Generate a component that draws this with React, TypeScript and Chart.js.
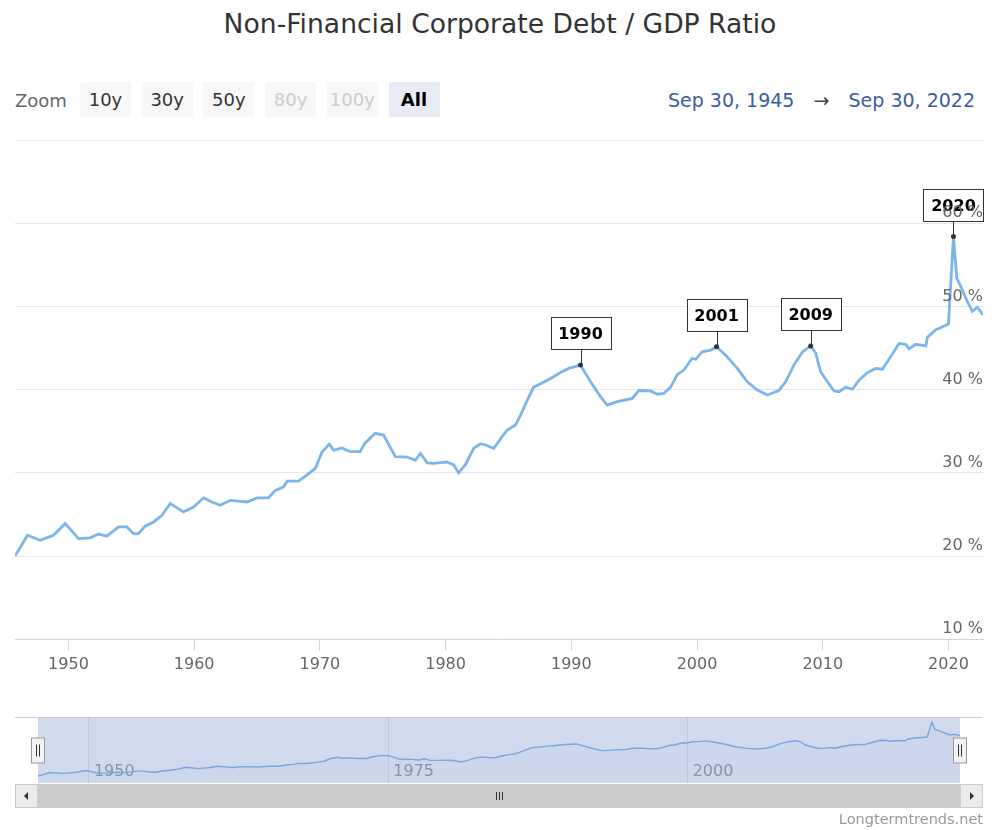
import React, { useEffect, useRef } from "react";
import { Chart, registerables } from "chart.js";

Chart.register(...registerables);

const FONT = '"DejaVu Sans", Verdana, sans-serif';

const TITLE = "Non-Financial Corporate Debt / GDP Ratio";
const zoomLabel = "Zoom";
const zoomButtons = ["10y", "30y", "50y", "80y", "100y", "All"];
const zoomDisabled = ["80y", "100y"];
const zoomSelected = "All";
const rangeFrom = "Sep 30, 1945";
const rangeTo = "Sep 30, 2022";
const credits = "Longtermtrends.net";

// decimal years (quarter ends) and ratio in %
const years = [
  1945.75, 1946.74, 1947.75, 1948.8, 1949.74, 1950.8, 1951.73, 1952.4, 1953.06, 1953.98,
  1954.65, 1955.17, 1955.57, 1956.1, 1956.77, 1957.43, 1958.1, 1959.15, 1959.95, 1960.75,
  1961.4, 1962.07, 1962.87, 1963.53, 1964.2, 1965.0, 1965.9, 1966.45, 1967.1, 1967.4,
  1968.3, 1968.98, 1969.64, 1970.17, 1970.75, 1971.1, 1971.75, 1972.4, 1973.2, 1973.6,
  1974.4, 1975.07, 1976.0, 1976.94, 1977.6, 1978.0, 1978.53, 1979.05, 1980.1, 1980.65,
  1981.04, 1981.6, 1982.24, 1982.77, 1983.17, 1983.83, 1984.5, 1984.9, 1985.56, 1985.96,
  1986.5, 1987.0, 1987.55, 1988.35, 1989.14, 1989.8, 1990.73, 1991.53, 1992.32, 1992.86,
  1993.65, 1994.85, 1995.37, 1996.3, 1996.84, 1997.36, 1997.9, 1998.43, 1998.95, 1999.6,
  1999.9, 2000.4, 2001.08, 2001.55, 2002.4, 2003.2, 2004.0, 2004.8, 2005.6, 2006.5,
  2007.05, 2007.7, 2008.4, 2009.04, 2009.44, 2009.83, 2010.37, 2010.9, 2011.3, 2011.83,
  2012.36, 2012.89, 2013.55, 2014.2, 2014.75, 2015.4, 2016.07, 2016.6, 2016.86, 2017.4,
  2018.2, 2018.33, 2019.0, 2019.8, 2020.0, 2020.4, 2020.66, 2020.98, 2021.5, 2021.9,
  2022.3, 2022.747,
];
const ratio = [
  20.0, 22.5, 21.9, 22.5, 23.9, 22.1, 22.2, 22.65, 22.4, 23.5,
  23.5, 22.7, 22.7, 23.6, 24.1, 24.9, 26.3, 25.3, 25.9, 27.0,
  26.5, 26.1, 26.7, 26.6, 26.5, 27.0, 27.0, 27.9, 28.3, 29.0,
  29.0, 29.75, 30.55, 32.5, 33.45, 32.7, 33.0, 32.55, 32.55, 33.6,
  34.75, 34.55, 31.95, 31.9, 31.5, 32.35, 31.2, 31.15, 31.3, 30.95,
  30.0, 31.05, 32.95, 33.5, 33.35, 32.95, 34.35, 35.15, 35.75, 36.95,
  38.75, 40.3, 40.7, 41.35, 42.05, 42.55, 42.95, 40.95, 39.15, 38.15,
  38.55, 38.95, 39.9, 39.85, 39.45, 39.55, 40.3, 41.8, 42.35, 43.75,
  43.65, 44.55, 44.75, 45.15, 43.95, 42.55, 40.95, 39.95, 39.35, 39.9,
  40.95, 42.95, 44.55, 45.25, 44.4, 42.15, 40.95, 39.85, 39.75, 40.3,
  40.05, 41.15, 42.05, 42.55, 42.45, 43.95, 45.55, 45.45, 44.9, 45.45,
  45.25, 46.3, 47.2, 47.75, 47.9, 58.4, 53.4, 52.4, 50.6, 49.4,
  49.9, 49.0,
];

const xMin = 1945.747;
const xMax = 2022.747;
const xTicks = [1950, 1960, 1970, 1980, 1990, 2000, 2010, 2020];
const navTicks = [1950, 1975, 2000];
const yTicks = [10, 20, 30, 40, 50, 60, 70];
const navYMin = 15;
const navYMax = 61.5;

const flagLabels = ["1990", "2001", "2009", "2020"];
const flagYears = [1990.73, 2001.55, 2009.04, 2020.4];
const flagValues = [42.95, 45.15, 45.25, 58.4];

const LINE = "#7cb5ec";

const flagPlugin = {
  id: "flags",
  afterDatasetsDraw(chart: any) {
    const { ctx } = chart;
    const x = chart.scales.x;
    const y = chart.scales.y;
    ctx.save();
    flagLabels.forEach((label, i) => {
      const px = x.getPixelForValue(flagYears[i]);
      const py = y.getPixelForValue(flagValues[i]);
      const w = 60, h = 32, gap = 16;
      const lx = Math.round(px) + 0.5;
      ctx.strokeStyle = "#333";
      ctx.lineWidth = 1;
      ctx.beginPath();
      ctx.moveTo(lx, py);
      ctx.lineTo(lx, py - gap);
      ctx.stroke();
      ctx.fillStyle = "#333";
      ctx.beginPath();
      ctx.arc(px, py, 2.5, 0, Math.PI * 2);
      ctx.fill();
      const bx = Math.round(px - w / 2) + 0.5;
      const by = Math.round(py - gap - h) + 0.5;
      ctx.fillStyle = "#fff";
      ctx.fillRect(bx, by, w, h);
      ctx.strokeRect(bx, by, w, h);
      ctx.fillStyle = "#000";
      ctx.font = `bold 16px ${FONT}`;
      ctx.textAlign = "center";
      ctx.textBaseline = "middle";
      ctx.fillText(label, px, by + h / 2 + 1);
    });
    ctx.restore();
  },
};

const navPlugin = {
  id: "navigatorDecor",
  beforeDatasetsDraw(chart: any) {
    const { ctx, chartArea: ca } = chart;
    const x = chart.scales.x;
    ctx.save();
    ctx.font = `16px ${FONT}`;
    ctx.fillStyle = "#999";
    ctx.textAlign = "left";
    ctx.textBaseline = "middle";
    x.ticks.forEach((t: any) => {
      ctx.fillText(String(t.value), x.getPixelForValue(t.value) + 5, ca.bottom - 11);
    });
    ctx.restore();
  },
  afterDatasetsDraw(chart: any) {
    const { ctx, chartArea: ca } = chart;
    const btn = 23;
    ctx.save();
    // mask (whole range selected)
    ctx.fillStyle = "rgba(102,133,194,0.3)";
    ctx.fillRect(ca.left, ca.top, ca.right - ca.left, ca.bottom - ca.top);
    // outline
    ctx.strokeStyle = "#cccccc";
    ctx.lineWidth = 1;
    ctx.beginPath();
    ctx.moveTo(ca.left - btn, Math.round(ca.top) - 0.5);
    ctx.lineTo(ca.right + btn, Math.round(ca.top) - 0.5);
    ctx.stroke();
    // handles
    const mid = (ca.top + ca.bottom) / 2;
    [ca.left, ca.right].forEach((hx: number) => {
      const cx = Math.round(hx);
      ctx.fillStyle = "#f2f2f2";
      ctx.strokeStyle = "#999";
      ctx.fillRect(cx - 6.5, mid - 12.5, 13, 25);
      ctx.strokeRect(cx - 6.5, mid - 12.5, 13, 25);
      ctx.strokeStyle = "#333";
      ctx.beginPath();
      ctx.moveTo(cx - 1.5, mid - 6);
      ctx.lineTo(cx - 1.5, mid + 6);
      ctx.moveTo(cx + 1.5, mid - 6);
      ctx.lineTo(cx + 1.5, mid + 6);
      ctx.stroke();
    });
    // scrollbar
    const sy = Math.round(ca.bottom) + 1;
    const sh = 24;
    const left = ca.left - btn;
    const right = ca.right + btn;
    ctx.fillStyle = "#f2f2f2";
    ctx.fillRect(left, sy, right - left, sh);
    ctx.fillStyle = "#cccccc";
    ctx.fillRect(ca.left, sy, ca.right - ca.left, sh);
    ctx.strokeStyle = "#cccccc";
    ctx.fillStyle = "#ebebeb";
    ctx.fillRect(left, sy, btn, sh);
    ctx.strokeRect(left + 0.5, sy + 0.5, btn - 1, sh - 1);
    ctx.fillRect(ca.right, sy, btn, sh);
    ctx.strokeRect(ca.right + 0.5, sy + 0.5, btn - 1, sh - 1);
    // arrows
    ctx.fillStyle = "#333";
    const ay = sy + sh / 2;
    const lax = left + btn / 2;
    ctx.beginPath();
    ctx.moveTo(lax - 2.5, ay);
    ctx.lineTo(lax + 1.5, ay - 4);
    ctx.lineTo(lax + 1.5, ay + 4);
    ctx.closePath();
    ctx.fill();
    const rax = ca.right + btn / 2;
    ctx.beginPath();
    ctx.moveTo(rax + 2.5, ay);
    ctx.lineTo(rax - 1.5, ay - 4);
    ctx.lineTo(rax - 1.5, ay + 4);
    ctx.closePath();
    ctx.fill();
    // grip
    const gx = Math.round((ca.left + ca.right) / 2) + 0.5;
    ctx.strokeStyle = "#333";
    ctx.beginPath();
    [-3, 0, 3].forEach((d) => {
      ctx.moveTo(gx + d, ay - 4);
      ctx.lineTo(gx + d, ay + 4);
    });
    ctx.stroke();
    ctx.restore();
  },
};

export default function App() {
  const mainRef = useRef<HTMLCanvasElement | null>(null);
  const navRef = useRef<HTMLCanvasElement | null>(null);

  useEffect(() => {
    document.body.style.margin = "0";
    const points = years.map((x, i) => ({ x, y: ratio[i] }));
    const main = new Chart(mainRef.current as HTMLCanvasElement, {
      type: "line",
      data: {
        datasets: [
          {
            data: points,
            borderColor: LINE,
            borderWidth: 2.8,
            pointRadius: 0,
            tension: 0,
            fill: false,
          },
        ],
      },
      options: {
        animation: false,
        responsive: false,
        events: [],
        layout: { padding: { left: 15, right: 17, top: 10, bottom: 20.5 } },
        plugins: { legend: { display: false }, tooltip: { enabled: false }, title: { display: false } },
        scales: {
          x: {
            type: "linear",
            min: xMin,
            max: xMax,
            afterBuildTicks: (s: any) => {
              s.ticks = xTicks.map((v) => ({ value: v }));
            },
            grid: { display: true, drawOnChartArea: false, drawTicks: true, tickLength: 11, color: "#ccd6eb" },
            border: { display: true, color: "#ccd6eb", width: 1 },
            ticks: {
              color: "#666",
              font: { family: FONT, size: 16 },
              padding: 5,
              maxRotation: 0,
              autoSkip: false,
              callback: (v: any) => String(v),
            },
          },
          y: {
            type: "linear",
            position: "right",
            min: 10,
            max: 70,
            afterBuildTicks: (s: any) => {
              s.ticks = yTicks.map((v) => ({ value: v }));
            },
            grid: { color: "#e6e6e6", drawTicks: false, lineWidth: 1 },
            border: { display: false },
            ticks: {
              mirror: true,
              padding: 0,
              labelOffset: -10,
              z: 1,
              color: "#666",
              font: { family: FONT, size: 16 },
              callback: (v: any) => (v === 70 ? "" : v + " %"),
            },
          },
        },
      } as any,
      plugins: [flagPlugin],
    });

    const nav = new Chart(navRef.current as HTMLCanvasElement, {
      type: "line",
      data: {
        datasets: [
          {
            data: points,
            borderColor: LINE,
            borderWidth: 1.4,
            backgroundColor: "rgba(124,181,236,0.05)",
            pointRadius: 0,
            tension: 0,
            fill: "start",
          },
        ],
      },
      options: {
        animation: false,
        responsive: false,
        events: [],
        layout: { padding: { left: 38, right: 40, top: 18, bottom: 47 } },
        plugins: { legend: { display: false }, tooltip: { enabled: false } },
        scales: {
          x: {
            type: "linear",
            min: xMin,
            max: xMax,
            afterBuildTicks: (s: any) => {
              s.ticks = navTicks.map((v) => ({ value: v }));
            },
            grid: { display: true, drawOnChartArea: true, drawTicks: false, color: "#e6e6e6" },
            border: { display: false },
            ticks: { display: false },
          },
          y: { type: "linear", min: navYMin, max: navYMax, display: false },
        },
      } as any,
      plugins: [navPlugin],
    });

    return () => {
      main.destroy();
      nav.destroy();
    };
  }, []);

  return (
    <div
      style={{
        position: "absolute",
        left: 0,
        top: 0,
        width: 1000,
        height: 830,
        overflow: "hidden",
        background: "#fff",
        fontFamily: FONT,
      }}
    >
      <div
        style={{
          position: "absolute",
          left: 0,
          top: 8,
          width: 1000,
          textAlign: "center",
          fontSize: 26.6,
          lineHeight: "32px",
          color: "#333",
          whiteSpace: "nowrap",
        }}
      >
        {TITLE}
      </div>
      <div style={{ position: "absolute", left: 15, top: 89, fontSize: 18, lineHeight: "24px", color: "#666" }}>
        {zoomLabel}
      </div>
      {zoomButtons.map((b, i) => {
        const disabled = zoomDisabled.includes(b);
        const selected = b === zoomSelected;
        return (
          <div
            key={b}
            style={{
              position: "absolute",
              left: 80 + i * 61.7,
              top: 82,
              width: 51,
              height: 35,
              borderRadius: 2,
              background: selected ? "#e6ebf5" : "#f7f7f7",
              color: disabled ? "#cccccc" : selected ? "#000" : "#333",
              fontWeight: selected ? "bold" : "normal",
              fontSize: 18,
              lineHeight: "36px",
              textAlign: "center",
              whiteSpace: "nowrap",
            }}
          >
            {b}
          </div>
        );
      })}
      <div style={{ position: "absolute", left: 668, top: 88, fontSize: 19, lineHeight: "24px", color: "#3a5ca8", whiteSpace: "nowrap" }}>
        {rangeFrom}
      </div>
      <div style={{ position: "absolute", left: 811, width: 21, textAlign: "center", top: 88, fontSize: 19, lineHeight: "24px", color: "#444" }}>
        →
      </div>
      <div style={{ position: "absolute", right: 25, top: 88, fontSize: 19, lineHeight: "24px", color: "#3a5ca8", whiteSpace: "nowrap" }}>
        {rangeTo}
      </div>
      <canvas
        ref={mainRef}
        width={1000}
        height={570}
        style={{ position: "absolute", left: 0, top: 130, width: 1000, height: 570 }}
      />
      <canvas
        ref={navRef}
        width={1000}
        height={130}
        style={{ position: "absolute", left: 0, top: 700, width: 1000, height: 130 }}
      />
      <div style={{ position: "absolute", right: 17, top: 810, fontSize: 14.5, lineHeight: "18px", color: "#999", whiteSpace: "nowrap" }}>
        {credits}
      </div>
    </div>
  );
}
